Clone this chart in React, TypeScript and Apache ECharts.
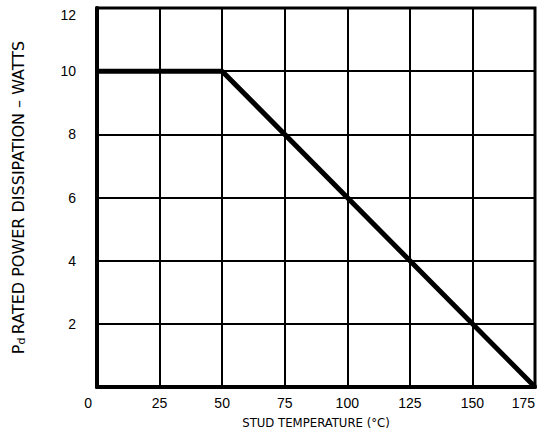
import React, { useEffect, useRef } from "react";
import * as echarts from "echarts";

const temperatures = [0, 50, 175];
const powerWatts = [10, 10, 0];
const xTicks = [0, 25, 50, 75, 100, 125, 150, 175];
const yTicks = [0, 2, 4, 6, 8, 10, 12];

export default function App() {
  const ref = useRef<HTMLDivElement>(null);
  useEffect(() => {
    document.body.style.margin = "0";
    const chart = echarts.init(ref.current!, null, { renderer: "svg" });
    const font = '"Liberation Sans", Arial, sans-serif';
    const titleFont = '"DejaVu Sans", sans-serif';
    chart.setOption({
      animation: false,
      backgroundColor: "#fff",
      grid: {
        left: 97,
        right: 2,
        top: 8,
        bottom: 44,
        outerBoundsMode: "none",
        containLabel: false,
        show: true,
        borderColor: "#000",
        borderWidth: 3,
      },
      xAxis: {
        type: "value",
        min: xTicks[0],
        max: xTicks[xTicks.length - 1],
        interval: 25,
        name: "STUD TEMPERATURE (°C)",
        nameLocation: "middle",
        nameGap: 29,
        nameTextStyle: {
          fontFamily: '"Liberation Sans Narrow", "DejaVu Sans Condensed", sans-serif',
          fontSize: 13,
          color: "#000",
        },
        axisLine: { show: true, lineStyle: { color: "#000", width: 4 } },
        axisTick: { show: false },
        splitLine: { show: true, lineStyle: { color: "#000", width: 2 } },
        axisLabel: {
          color: "#000",
          fontSize: 14,
          fontFamily: font,
          margin: 9,
          alignMinLabel: "right",
          alignMaxLabel: "right",
          formatter: (v: number) => (v === 0 ? "{z|0}" : String(v)),
          rich: { z: { fontSize: 14, fontFamily: font, color: "#000", padding: [0, 5, 6, 0] } },
        },
      },
      yAxis: {
        type: "value",
        min: yTicks[0],
        max: yTicks[yTicks.length - 1],
        interval: 2,
        name: "{p|P}{d|d} {t|RATED POWER DISSIPATION – WATTS}",
        nameLocation: "middle",
        nameGap: 70,
        nameTextStyle: {
          color: "#000",
          rich: {
            p: { fontSize: 16, fontFamily: titleFont, color: "#000" },
            d: { fontSize: 11, fontFamily: titleFont, color: "#000", verticalAlign: "bottom", padding: [7, 0, 0, 0] },
            t: { fontSize: 16, fontFamily: titleFont, color: "#000" },
          },
        },
        axisLine: { show: true, lineStyle: { color: "#000", width: 4 } },
        axisTick: { show: false },
        splitLine: { show: true, lineStyle: { color: "#000", width: 2 } },
        axisLabel: {
          color: "#000",
          fontSize: 14,
          fontFamily: font,
          margin: 21,
          formatter: (v: number) => (v === 0 ? "" : v === 12 ? "{m|12}" : String(v)),
          rich: { m: { fontSize: 14, fontFamily: font, color: "#000", padding: [13, 0, 0, 0] } },
        },
      },
      series: [
        {
          type: "line",
          data: temperatures.map((t, i) => [t, powerWatts[i]]),
          symbol: "none",
          lineStyle: { color: "#000", width: 5 },
          clip: false,
        },
      ],
    });
    return () => chart.dispose();
  }, []);
  return <div ref={ref} style={{ position: "absolute", left: 0, top: 0, width: 537, height: 431 }} />;
}
